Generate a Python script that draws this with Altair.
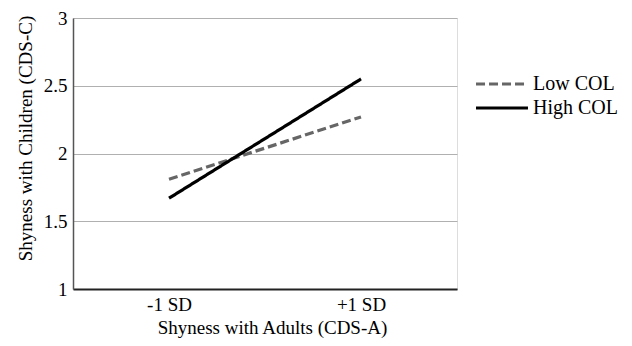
import altair as alt
import pandas as pd

categories = ["-1 SD", "+1 SD"]
series = ["Low COL", "High COL"]
low_col = [1.81, 2.27]
high_col = [1.67, 2.55]
y_ticks = [1, 1.5, 2, 2.5, 3]

rows = []
for name, vals in zip(series, [low_col, high_col]):
    for c, v in zip(categories, vals):
        rows.append({"x": c, "y": v, "series": name})
df = pd.DataFrame(rows)

FONT = "Liberation Serif"

legend_cfg = dict(title=None, orient="none", legendX=419, legendY=56,
                  symbolType="M-5,0H5", symbolSize=108, symbolStrokeWidth=3,
                  labelFont=FONT, labelFontSize=20, labelColor="black",
                  labelOffset=21, rowPadding=4, padding=0)

chart = alt.Chart(df).mark_line(strokeWidth=3.2, strokeCap="butt").encode(
    x=alt.X("x:N", sort=categories, scale=alt.Scale(type="point", padding=0.5),
            axis=alt.Axis(title="Shyness with Adults (CDS-A)", labelAngle=0, ticks=False,
                          labelPadding=6, labelFontSize=19, titleFontSize=19,
                          labelFont=FONT, titleFont=FONT, labelColor="black", titleColor="black",
                          titleFontWeight="normal", domainColor="#222222", domainWidth=2,
                          grid=False, titleX=199, titleY=38, titleBaseline="middle",
                          titleAnchor="middle")),
    y=alt.Y("y:Q", scale=alt.Scale(domain=[1, 3], nice=False),
            axis=alt.Axis(title="Shyness with Children (CDS-C)", values=y_ticks, format="~g",
                          ticks=False, labelPadding=6, labelFontSize=19, titleFontSize=19,
                          labelFont=FONT, titleFont=FONT, labelColor="black", titleColor="black",
                          titleFontWeight="normal", domainColor="#555555", domainWidth=1.5,
                          gridColor="#b0b0b0", gridWidth=1, titleX=-48, titleY=120,
                          titleAlign="center", titleBaseline="middle", titleAngle=270)),
    color=alt.Color("series:N", scale=alt.Scale(domain=series, range=["#666666", "#000000"]),
                    legend=alt.Legend(**legend_cfg)),
    strokeDash=alt.StrokeDash("series:N",
                              scale=alt.Scale(domain=series, range=[[9, 4], [1, 0]]),
                              legend=alt.Legend(**legend_cfg)),
).properties(
    width=384, height=271,
    autosize=alt.AutoSizeParams(type="none"),
    padding={"left": 65, "top": 10, "right": 167, "bottom": 49},
).configure_view(stroke=None).configure(background="white")

chart.save("out.html", embed_options={"renderer": "svg", "actions": False})
